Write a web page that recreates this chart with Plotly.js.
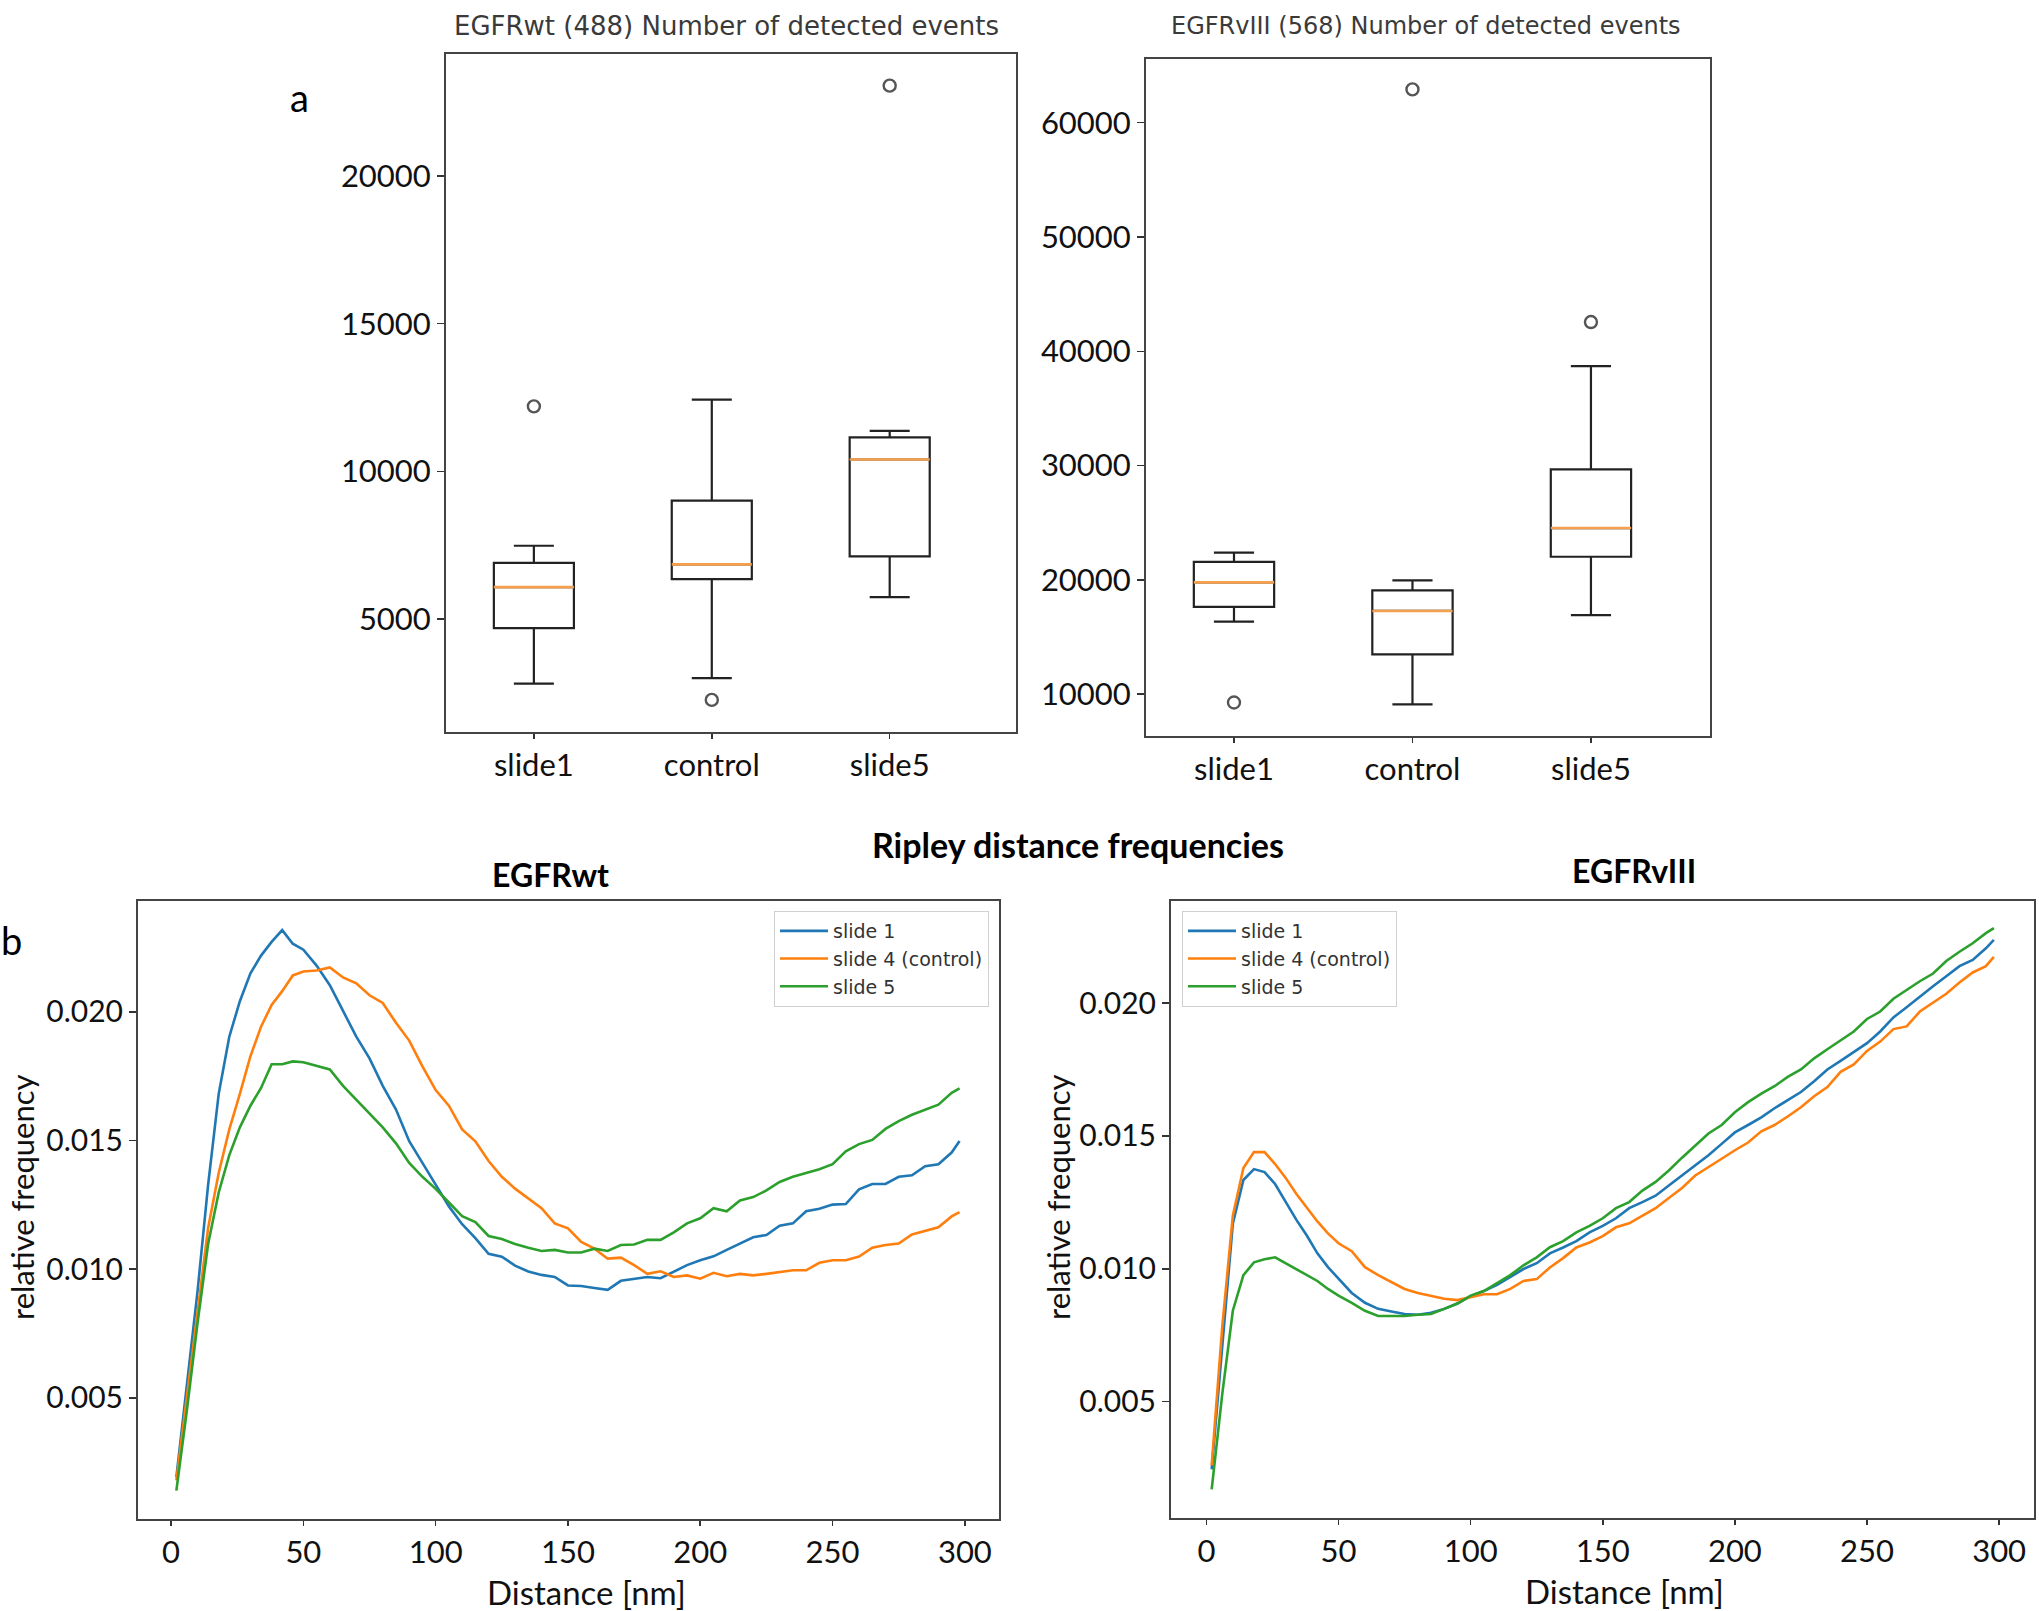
<!DOCTYPE html>
<html>
<head>
<meta charset="utf-8">
<script src="https://cdn.plot.ly/plotly-3.0.1.min.js"></script>
<style>
html,body{margin:0;padding:0;background:#fff;}
#chart{width:2039px;height:1611px;}
</style>
</head>
<body>
<div id="chart"></div>
<script>
// ---------- Box plot data ----------
const boxCategories = ['slide1', 'control', 'slide5'];
const boxPositions = [1, 2, 3];

const wtQ1 = [4690, 6350, 7120];
const wtMedian = [6080, 6850, 10400];
const wtQ3 = [6900, 9010, 11150];
const wtLowerFence = [2810, 3000, 5740];
const wtUpperFence = [7480, 12430, 11370];
const wtOutlierX = [1, 2, 3];
const wtOutlierY = [12200, 2260, 23060];

const v3Q1 = [17650, 13490, 22030];
const v3Median = [19790, 17290, 24540];
const v3Q3 = [21580, 19080, 29680];
const v3LowerFence = [16350, 9110, 16930];
const v3UpperFence = [22390, 19970, 38710];
const v3OutlierX = [1, 2, 3];
const v3OutlierY = [9280, 62910, 42560];

const wtYTicks = [5000, 10000, 15000, 20000];
const v3YTicks = [10000, 20000, 30000, 40000, 50000, 60000];

// ---------- Ripley distance frequency data ----------
const distance = [2, 6, 10, 14, 18, 22, 26, 30, 34, 38, 42, 46, 50, 55, 60, 65, 70, 75, 80, 85, 90, 95, 100,
  105, 110, 115, 120, 125, 130, 135, 140, 145, 150, 155, 160, 165, 170, 175, 180, 185, 190, 195, 200,
  205, 210, 215, 220, 225, 230, 235, 240, 245, 250, 255, 260, 265, 270, 275, 280, 285, 290, 295, 298];

const wtSlide1 = [0.00193, 0.00546, 0.00914, 0.01328, 0.01681, 0.01903, 0.02041, 0.02149, 0.02218, 0.02271, 0.02317, 0.02264, 0.02241, 0.02179, 0.02103, 0.02003, 0.01903, 0.01819, 0.01712, 0.0162, 0.01497, 0.01413, 0.0133,
  0.01244, 0.01175, 0.01121, 0.0106, 0.01049, 0.01014, 0.00991, 0.00978, 0.0097, 0.00937, 0.00935, 0.00927, 0.0092, 0.00955, 0.00963, 0.0097, 0.00965, 0.0099, 0.01016, 0.01035,
  0.0105, 0.01075, 0.0110, 0.01124, 0.01133, 0.01169, 0.01178, 0.01225, 0.01235, 0.01251, 0.01253, 0.0131, 0.01331, 0.01331, 0.01359, 0.01365, 0.014, 0.01408, 0.01453, 0.01498];
const wtSlide4 = [0.0018, 0.0050, 0.00837, 0.0116, 0.01374, 0.01543, 0.01681, 0.01827, 0.01942, 0.02026, 0.0208, 0.02141, 0.02156, 0.0216, 0.02172, 0.02133, 0.0211, 0.02064, 0.02034, 0.01957, 0.01888, 0.01788, 0.01696,
  0.01635, 0.01543, 0.01497, 0.0142, 0.01359, 0.01313, 0.01275, 0.01237, 0.01178, 0.01159, 0.01106, 0.0108, 0.01041, 0.01045, 0.01016, 0.00982, 0.00992, 0.0097, 0.00976, 0.00963,
  0.00986, 0.00973, 0.00982, 0.00976, 0.00982, 0.0099, 0.00996, 0.00996, 0.01025, 0.01035, 0.01035, 0.01049, 0.01084, 0.01094, 0.0110, 0.01135, 0.01149, 0.01163, 0.01205, 0.01222];
const wtSlide5 = [0.0014, 0.00454, 0.00791, 0.01098, 0.01298, 0.01443, 0.01551, 0.01635, 0.01704, 0.01796, 0.01796, 0.01807, 0.01804, 0.01791, 0.01776, 0.01712, 0.01658, 0.01604, 0.01551, 0.01489, 0.01413, 0.01359, 0.01312,
  0.01259, 0.01206, 0.01183, 0.01129, 0.01117, 0.01098, 0.01083, 0.01071, 0.01075, 0.01065, 0.01065, 0.0108, 0.01071, 0.01094, 0.01096, 0.01114, 0.01114, 0.01143, 0.01178, 0.01198,
  0.01237, 0.01225, 0.01267, 0.0128, 0.01306, 0.01339, 0.01359, 0.01375, 0.01388, 0.01408, 0.01458, 0.01486, 0.01502, 0.01545, 0.01575, 0.016, 0.0162, 0.01639, 0.01685, 0.01702];

const v3Slide1 = [0.00245, 0.00707, 0.0117, 0.01334, 0.01375, 0.01364, 0.01319, 0.01252, 0.01185, 0.01125, 0.01058, 0.01006, 0.00961, 0.00909, 0.00872, 0.00849, 0.00839, 0.0083, 0.00827, 0.00834, 0.00849, 0.00869, 0.00897,
  0.00916, 0.00939, 0.00969, 0.00999, 0.01021, 0.01058, 0.0108, 0.01104, 0.01137, 0.01161, 0.0119, 0.01228, 0.01251, 0.01275, 0.01313, 0.01351, 0.01389, 0.01427, 0.0147, 0.01513,
  0.01541, 0.0157, 0.01604, 0.01636, 0.01665, 0.01706, 0.0175, 0.01782, 0.01817, 0.01849, 0.01893, 0.01946, 0.01984, 0.02025, 0.02063, 0.02101, 0.02139, 0.02162, 0.02206, 0.02238];
const v3Slide4 = [0.0026, 0.00782, 0.0120, 0.01379, 0.01439, 0.01439, 0.01394, 0.01342, 0.01282, 0.0123, 0.01178, 0.01133, 0.01096, 0.01066, 0.01006, 0.00976, 0.00949, 0.00924, 0.00909, 0.00897, 0.00887, 0.00882, 0.00894,
  0.00904, 0.00904, 0.00924, 0.00954, 0.00961, 0.01005, 0.0104, 0.0108, 0.01099, 0.01123, 0.01156, 0.01171, 0.01199, 0.01228, 0.01266, 0.01304, 0.01351, 0.01384, 0.01414, 0.01446,
  0.01475, 0.01517, 0.01541, 0.01573, 0.01608, 0.01649, 0.01684, 0.01741, 0.01769, 0.0182, 0.01855, 0.01902, 0.01912, 0.01968, 0.02003, 0.02035, 0.02077, 0.02115, 0.02139, 0.02174];
const v3Slide5 = [0.0017, 0.00528, 0.00842, 0.00976, 0.01024, 0.01036, 0.01043, 0.01021, 0.00999, 0.00979, 0.00954, 0.00924, 0.00899, 0.00872, 0.00842, 0.00822, 0.00822, 0.00822, 0.00827, 0.0083, 0.00849, 0.00869, 0.00899,
  0.00916, 0.00946, 0.00976, 0.01013, 0.01043, 0.01081, 0.01104, 0.01137, 0.01161, 0.0119, 0.01228, 0.01251, 0.01294, 0.01327, 0.0137, 0.01418, 0.01465, 0.01509, 0.01541, 0.01589,
  0.01627, 0.01659, 0.01687, 0.01722, 0.0175, 0.01792, 0.01826, 0.01858, 0.01893, 0.0194, 0.01968, 0.02016, 0.0205, 0.02082, 0.02111, 0.02158, 0.02193, 0.02225, 0.02263, 0.02282];

const seriesNames = ['slide 1', 'slide 4 (control)', 'slide 5'];
const seriesColors = ['#1f77b4', '#ff7f0e', '#2ca02c'];
const freqTicks = [0.005, 0.010, 0.015, 0.020];
const distTicks = [0, 50, 100, 150, 200, 250, 300];

// ---------- helpers ----------
const BOX_W = 0.45;
const TICK_FONT = {family: 'Lato, "Noto Sans", sans-serif', size: 31, color: '#111'};
const LINE_YTICK_FONT = {family: 'Lato, "Noto Sans", sans-serif', size: 30, color: '#111'};
const LINE_XTICK_FONT = {family: 'Lato, "Noto Sans", sans-serif', size: 31, color: '#111'};

function medianSegments(pos, med) {
  const xs = [], ys = [];
  pos.forEach((p, i) => { xs.push(p - BOX_W / 2, p + BOX_W / 2, null); ys.push(med[i], med[i], null); });
  return {xs, ys};
}

function boxTraces(q1, med, q3, lo, hi, ox, oy, xa, ya) {
  const ms = medianSegments(boxPositions, med);
  return [
    {type: 'box', x: boxPositions, q1: q1, median: med, q3: q3, lowerfence: lo, upperfence: hi,
     width: BOX_W, whiskerwidth: 0.5, boxpoints: false, fillcolor: 'rgba(255,255,255,0)',
     line: {color: '#222', width: 2.2}, xaxis: xa, yaxis: ya, showlegend: false, hoverinfo: 'skip'},
    {type: 'scatter', mode: 'lines', x: ms.xs, y: ms.ys, line: {color: '#f4a04e', width: 2.6},
     xaxis: xa, yaxis: ya, showlegend: false, hoverinfo: 'skip'},
    {type: 'scatter', mode: 'markers', x: ox, y: oy,
     marker: {symbol: 'circle-open', size: 12, color: '#555', line: {width: 2.4, color: '#555'}},
     xaxis: xa, yaxis: ya, showlegend: false, hoverinfo: 'skip'}
  ];
}

function lineTraces(ys, xa, ya, legendId) {
  return ys.map((y, i) => ({
    type: 'scatter', mode: 'lines', x: distance, y: y, name: seriesNames[i],
    line: {color: seriesColors[i], width: 2.6}, xaxis: xa, yaxis: ya,
    legend: legendId, showlegend: true, hoverinfo: 'skip'
  }));
}

const traces = [].concat(
  boxTraces(wtQ1, wtMedian, wtQ3, wtLowerFence, wtUpperFence, wtOutlierX, wtOutlierY, 'x', 'y'),
  boxTraces(v3Q1, v3Median, v3Q3, v3LowerFence, v3UpperFence, v3OutlierX, v3OutlierY, 'x2', 'y2'),
  lineTraces([wtSlide1, wtSlide4, wtSlide5], 'x3', 'y3', 'legend'),
  lineTraces([v3Slide1, v3Slide4, v3Slide5], 'x4', 'y4', 'legend2')
);

const W = 2039, H = 1611;
const px = v => v / W;
const py = v => 1 - v / H;

function axisBase(extra) {
  return Object.assign({
    showline: true, mirror: true, linecolor: '#444', linewidth: 2,
    ticks: 'outside', ticklen: 7, tickwidth: 1.6, tickcolor: '#333',
    showgrid: false, zeroline: false, fixedrange: true
  }, extra);
}

const legendStyle = {xanchor: 'left', yanchor: 'top', bgcolor: '#fff', bordercolor: '#d0d0d0', borderwidth: 1,
  font: {family: '"DejaVu Sans", sans-serif', size: 19, color: '#333'}, tracegroupgap: 0, itemwidth: 48};

const layout = {
  width: W, height: H,
  margin: {l: 0, r: 0, t: 0, b: 0},
  paper_bgcolor: '#fff', plot_bgcolor: '#fff',
  showlegend: true,
  xaxis: axisBase({domain: [px(446), px(1016)], range: [0.506, 3.71], tickvals: boxPositions, ticktext: boxCategories, tickfont: TICK_FONT, ticklen: 5, anchor: 'y'}),
  yaxis: axisBase({domain: [py(732), py(54)], range: [1173, 24131], tickvals: wtYTicks, tickformat: 'd', tickfont: TICK_FONT, anchor: 'x'}),
  xaxis2: axisBase({domain: [px(1146), px(1710)], range: [0.507, 3.667], tickvals: boxPositions, ticktext: boxCategories, tickfont: TICK_FONT, ticklen: 5, anchor: 'y2'}),
  yaxis2: axisBase({domain: [py(736), py(59)], range: [6350, 65570], tickvals: v3YTicks, tickformat: 'd', tickfont: TICK_FONT, anchor: 'x2'}),
  xaxis3: axisBase({domain: [px(138), px(999)], range: [-12.5, 312.9], tickvals: distTicks, tickfont: LINE_XTICK_FONT, ticklen: 5, anchor: 'y3'}),
  yaxis3: axisBase({domain: [py(1519), py(901)], range: [0.0003, 0.0243], tickvals: freqTicks, tickformat: '.3f', tickfont: LINE_YTICK_FONT, anchor: 'x3'}),
  xaxis4: axisBase({domain: [px(1171), px(2034)], range: [-13.4, 313.2], tickvals: distTicks, tickfont: LINE_XTICK_FONT, ticklen: 5, anchor: 'y4'}),
  yaxis4: axisBase({domain: [py(1518), py(901)], range: [0.00062, 0.02384], tickvals: freqTicks, tickformat: '.3f', tickfont: LINE_YTICK_FONT, anchor: 'x4'}),
  legend: Object.assign({x: px(774), y: py(911)}, legendStyle),
  legend2: Object.assign({x: px(1182), y: py(911)}, legendStyle),
  annotations: [
    {text: 'EGFRwt (488) Number of detected events', x: px(726), y: py(26), xref: 'paper', yref: 'paper', xanchor: 'center', yanchor: 'middle', showarrow: false,
     font: {family: '"DejaVu Sans", sans-serif', size: 26, color: '#3a3a3a'}},
    {text: 'EGFRvIII (568) Number of detected events', x: px(1426), y: py(26), xref: 'paper', yref: 'paper', xanchor: 'center', yanchor: 'middle', showarrow: false,
     font: {family: '"DejaVu Sans", sans-serif', size: 24, color: '#3a3a3a'}},
    {text: 'a', x: px(299), y: py(97), xref: 'paper', yref: 'paper', xanchor: 'center', yanchor: 'middle', showarrow: false,
     font: {family: 'Lato, sans-serif', size: 38, color: '#000'}},
    {text: 'b', x: px(11), y: py(940), xref: 'paper', yref: 'paper', xanchor: 'center', yanchor: 'middle', showarrow: false,
     font: {family: 'Lato, sans-serif', size: 38, color: '#000'}},
    {text: '<b>Ripley distance frequencies</b>', x: px(1078), y: py(844), xref: 'paper', yref: 'paper', xanchor: 'center', yanchor: 'middle', showarrow: false,
     font: {family: 'Lato, sans-serif', size: 34, color: '#000'}},
    {text: '<b>EGFRwt</b>', x: px(550), y: py(874), xref: 'paper', yref: 'paper', xanchor: 'center', yanchor: 'middle', showarrow: false,
     font: {family: 'Lato, sans-serif', size: 32, color: '#000'}},
    {text: '<b>EGFRvIII</b>', x: px(1634), y: py(870), xref: 'paper', yref: 'paper', xanchor: 'center', yanchor: 'middle', showarrow: false,
     font: {family: 'Lato, sans-serif', size: 32, color: '#000'}},
    {text: 'relative frequency', x: px(22), y: py(1198), xref: 'paper', yref: 'paper', xanchor: 'center', yanchor: 'middle', textangle: -90, showarrow: false,
     font: {family: 'Lato, sans-serif', size: 31, color: '#111'}},
    {text: 'relative frequency', x: px(1058), y: py(1198), xref: 'paper', yref: 'paper', xanchor: 'center', yanchor: 'middle', textangle: -90, showarrow: false,
     font: {family: 'Lato, sans-serif', size: 31, color: '#111'}},
    {text: 'Distance [nm]', x: px(586), y: py(1592), xref: 'paper', yref: 'paper', xanchor: 'center', yanchor: 'middle', showarrow: false,
     font: {family: 'Lato, sans-serif', size: 33, color: '#111'}},
    {text: 'Distance [nm]', x: px(1624), y: py(1591), xref: 'paper', yref: 'paper', xanchor: 'center', yanchor: 'middle', showarrow: false,
     font: {family: 'Lato, sans-serif', size: 33, color: '#111'}}
  ]
};

Plotly.newPlot('chart', traces, layout, {staticPlot: true, displayModeBar: false});
</script>
</body>
</html>
